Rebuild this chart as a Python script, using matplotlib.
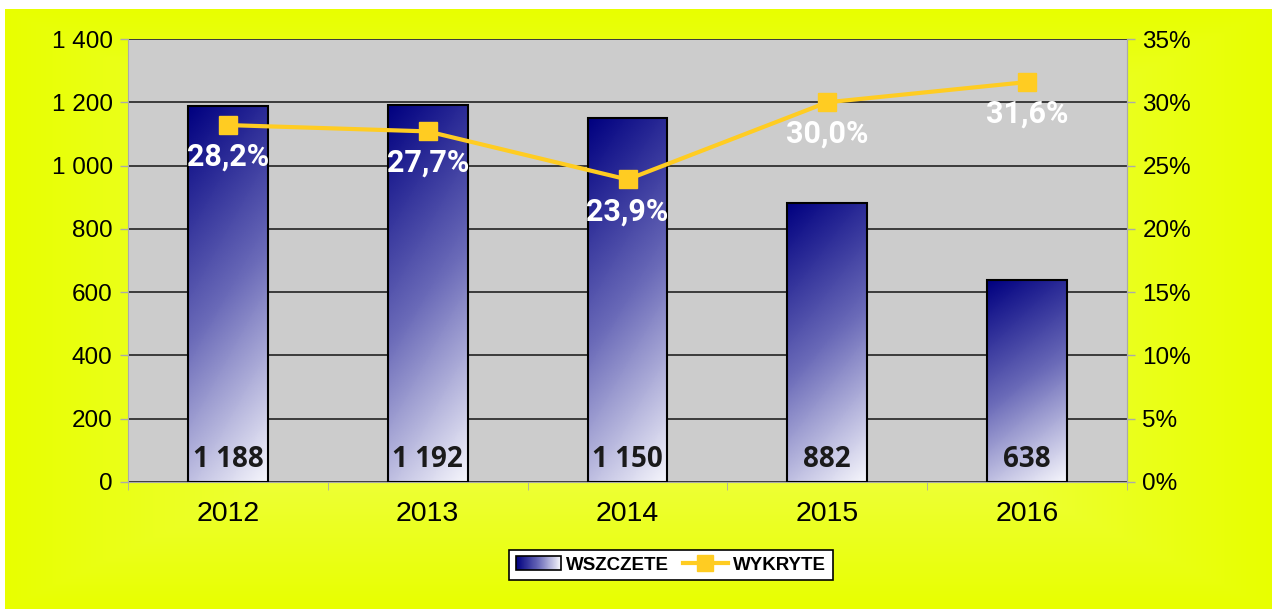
import numpy as np
import matplotlib
matplotlib.use("Agg")
import matplotlib.pyplot as plt
from matplotlib.colors import LinearSegmentedColormap
from matplotlib.patches import Rectangle, Patch
from matplotlib.lines import Line2D
from matplotlib.legend_handler import HandlerPatch
from matplotlib.ticker import FuncFormatter, MultipleLocator, FixedLocator

plt.rcParams['font.family'] = ['Liberation Sans', 'DejaVu Sans']

years = ["2012", "2013", "2014", "2015", "2016"]
wszczete = [1188, 1192, 1150, 882, 638]
wykryte = [28.2, 27.7, 23.9, 30.0, 31.6]
bar_labels = ["1 188", "1 192", "1 150", "882", "638"]
pct_labels = ["28,2%", "27,7%", "23,9%", "30,0%", "31,6%"]

W, H = 1277, 612
fig = plt.figure(figsize=(W / 100, H / 100), dpi=100)
fig.patch.set_facecolor("white")

# background rectangular gradient
bg = fig.add_axes([5 / W, 1 - 609 / H, 1267 / W, 600 / H])
bg.set_axis_off()
nx, ny = 400, 200
xx = np.abs(np.linspace(-1, 1, nx))[None, :]
yy = np.abs(np.linspace(-1, 1, ny))[:, None]
d = np.maximum(xx, yy)
edge = np.array([0.91, 1.0, 0.0])
center = np.array([0.96, 1.0, 0.5])
img = edge[None, None, :] * d[..., None] + center[None, None, :] * (1 - d[..., None])
bg.imshow(img, aspect="auto", extent=[0, 1, 0, 1])
bg.set_xlim(0, 1)
bg.set_ylim(0, 1)

# main axes
left, right, top, bottom = 128, 1127, 39, 482
ax = fig.add_axes([left / W, 1 - bottom / H, (right - left) / W, (bottom - top) / H])
ax.set_facecolor("#cccccc")
x = np.arange(len(years))
ax.yaxis.set_major_locator(MultipleLocator(200))
ax.yaxis.set_major_formatter(FuncFormatter(lambda v, p: f"{int(v):,}".replace(",", " ")))
ax.grid(axis="y", color="#222222", linewidth=1.2, zorder=1)
ax.set_axisbelow(True)
ax.spines["top"].set_visible(False)
ax.spines["left"].set_color("#aaaaaa")
ax.spines["right"].set_color("#aaaaaa")
ax.spines["bottom"].set_color("#aaaaaa")
ax.tick_params(axis="y", colors="#aaaaaa", labelcolor="black", labelsize=17.5, length=6, width=1,
               direction="out", pad=5)
ax.set_xticks(x)
ax.set_xticklabels(years)
ax.tick_params(axis="x", length=0, labelsize=20.5, pad=14)
ax.xaxis.set_minor_locator(FixedLocator(np.arange(-0.5, len(years), 1.0)))
ax.tick_params(axis="x", which="minor", length=6, colors="#aaaaaa")

cmap = LinearSegmentedColormap.from_list("bar", ["#000080", "#6a6ab8", "#f6f6fc"])
bw = 0.4
gx = np.linspace(0, 1, 50)[None, :]
gy = np.linspace(0, 1, 200)[:, None]
grad = 0.8 * gy + 0.2 * gx
bars = ax.bar(x, wszczete, width=bw, facecolor="none", edgecolor="black", linewidth=1.5, zorder=3)
for b in bars:
    x0, w, h = b.get_x(), b.get_width(), b.get_height()
    im = ax.imshow(grad, cmap=cmap, vmin=0, vmax=1, aspect="auto",
                   extent=[x0, x0 + w, 0, h], origin="upper", zorder=2)
    clip = Rectangle((x0, 0), w, h, transform=ax.transData)
    im.set_clip_path(clip)
ax.set_xlim(-0.5, len(years) - 0.5)
ax.set_ylim(0, 1400)
for xi, lab in zip(x, bar_labels):
    ax.text(xi, 70, lab, ha="center", va="center", fontsize=20, fontweight="bold",
            family=["Open Sans", "DejaVu Sans"], color="#1a1a1a", zorder=6)

ax2 = ax.twinx()
ax2.set_ylim(0, 35)
ax2.yaxis.set_major_locator(MultipleLocator(5))
ax2.yaxis.set_major_formatter(FuncFormatter(lambda v, p: f"{int(v)}%"))
ax2.tick_params(axis="y", colors="#aaaaaa", labelcolor="black", labelsize=17.5, length=6, width=1, pad=5)
for s in ["top", "left", "bottom"]:
    ax2.spines[s].set_visible(False)
ax2.spines["right"].set_color("#aaaaaa")
ax2.plot(x, wykryte, color="#ffcc22", linewidth=3, marker="s", markersize=13,
         markerfacecolor="#ffcc22", markeredgecolor="#ffcc22", zorder=5)
for xi, v, lab in zip(x, wykryte, pct_labels):
    ax2.text(xi, v - 2.5, lab, ha="center", va="center", fontsize=22, fontweight="bold",
             family=["Roboto", "DejaVu Sans"], color="white", zorder=6)


class GradHandler(HandlerPatch):
    def create_artists(self, legend, orig_handle, xdescent, ydescent, width, height, fontsize, trans):
        im = matplotlib.image.BboxImage(
            matplotlib.transforms.TransformedBbox(
                matplotlib.transforms.Bbox.from_bounds(-xdescent, -ydescent, width, height), trans),
            cmap=cmap, norm=matplotlib.colors.Normalize(0, 1))
        im.set_data(np.linspace(0, 1, 50)[None, :])
        r = Rectangle((-xdescent, -ydescent), width, height, facecolor="none",
                      edgecolor="black", linewidth=1.2, transform=trans)
        return [im, r]


h1 = Patch(label="WSZCZETE")
h2 = Line2D([], [], color="#ffcc22", linewidth=3, marker="s", markersize=12, label="WYKRYTE")
leg = fig.legend([h1, h2], ["WSZCZETE", "WYKRYTE"], handler_map={Patch: GradHandler()},
                 loc="center", bbox_to_anchor=(671 / W, 1 - 565 / H), ncol=2,
                 frameon=True, fancybox=False, edgecolor="black", facecolor="white",
                 framealpha=1, prop={"size": 13.5, "weight": "bold"}, handlelength=2.4,
                 handletextpad=0.3, columnspacing=0.7, borderpad=0.35, borderaxespad=0)
leg.get_frame().set_linewidth(1.2)

fig.savefig("out.png", dpi=100, facecolor=fig.get_facecolor())
